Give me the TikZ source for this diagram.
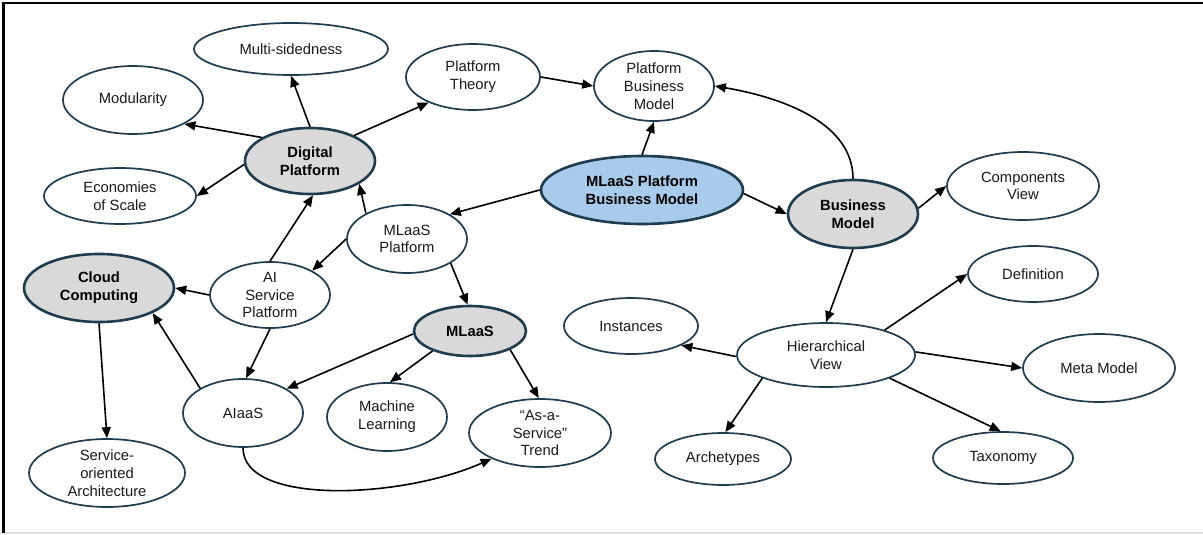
\documentclass[tikz,border=0pt]{standalone}
\usepackage{fontspec}
\setmainfont{Liberation Sans}
\usetikzlibrary{shapes.geometric,arrows.meta}
\definecolor{rim}{HTML}{1F3D4F}
\definecolor{hubgray}{HTML}{D9D9D9}
\definecolor{hubblue}{HTML}{A9CBEB}
\definecolor{txt}{HTML}{1A1A1A}
\tikzset{
  bubble/.style={ellipse, draw=rim, line width=1.7pt, fill=white, inner sep=0pt, align=center, text=txt,
    font=\fontsize{14.8}{17.8}\selectfont},
  hub/.style={bubble, fill=hubgray, line width=2.6pt, text=black, font=\fontsize{14.8}{17.8}\selectfont\bfseries},
  bluehub/.style={hub, fill=hubblue},
  link/.style={draw=black, line width=1.6pt, -{Triangle[length=11pt,width=9pt]}},
  sz/.style 2 args={minimum width=#1, minimum height=#2}
}
\begin{document}
\begin{tikzpicture}[x=1pt,y=-1pt]
\useasboundingbox (0,0) rectangle (1203,535);
% frame
\coordinate (ftl) at (3.5,3);
\coordinate (ftr) at (1203,3);
\coordinate (fbl) at (3.5,533);
\coordinate (fbr) at (1203,533);
\draw[line width=2pt, color=gray!25] (fbl) -- (fbr);
\draw[line width=2.4pt, black] (fbl) -- (ftl) -- (ftr);

% nodes
\node[bubble, sz={194}{52}] (multi) at (291,49) {Multi-sidedness};
\node[bubble, sz={140}{68}] (modul) at (133,100) {Modularity};
\node[hub, sz={130}{66}] (dp) at (310,161) {Digital\\Platform};
\node[bubble, sz={152}{56}] (econ) at (120,196) {Economies\\of Scale};
\node[bubble, sz={134}{66}] (pt) at (473,77) {Platform\\Theory};
\node[bubble, sz={120}{70}] (pbm) at (654,86) {Platform\\Business\\Model};
\node[bluehub, sz={202}{68}] (mpbm) at (642,190) {MLaaS Platform\\Business Model};
\node[hub, sz={130}{68}] (bm) at (853,214) {Business\\Model};
\node[bubble, sz={152}{68}] (cv) at (1023,186) {Components\\View};
\node[bubble, sz={130}{56}] (def) at (1033,274) {Definition};
\node[bubble, sz={120}{68}] (mp) at (407,239) {MLaaS\\Platform};
\node[hub, sz={150}{68}] (cc) at (99,288) {Cloud\\Computing};
\node[bubble, sz={120}{66}] (ai) at (270,295) {AI\\Service\\Platform};
\node[hub, sz={112}{50}] (mlaas) at (470,331) {MLaaS};
\node[bubble, sz={120}{68}] (aiaas) at (243,413) {AIaaS};
\node[bubble, sz={120}{68}] (ml) at (387,417) {Machine\\Learning};
\node[bubble, sz={142}{68}] (trend) at (540,433) {“As-a-\\Service”\\Trend};
\node[bubble, sz={156}{68}] (soa) at (107,473) {Service-\\oriented\\Architecture};
\node[bubble, sz={134}{56}] (inst) at (631,326) {Instances};
\node[bubble, sz={178}{64}] (hv) at (826,355) {Hierarchical\\View};
\node[bubble, sz={152}{68}] (meta) at (1099,368) {Meta Model};
\node[bubble, sz={136}{52}] (arche) at (723,459) {Archetypes};
\node[bubble, sz={140}{52}] (tax) at (1003,458) {Taxonomy};

% connectors
\draw[link] (dp.north) -- (multi.south);
\draw[link] (dp.154) -- (modul.-25);
\draw[link] (dp.183) -- (econ.east);
\draw[link] (dp.30) -- (pt.210);
\draw[link] (pt.east) -- (pbm.west);
\draw[link] (mpbm.north) -- (pbm.south);
\draw[link] (bm.north) .. controls +(0,-55) and +(70,12) .. (pbm.east);
\draw[link] (mpbm.west) -- (mp.30);
\draw[link] (mpbm.-2) -- (bm.west);
\draw[link] (bm.5) -- (cv.west);
\draw[link] (bm.south) -- (hv.north);
\draw[link] (hv.23) -- (def.west);
\draw[link] (hv.181) -- (inst.-21);
\draw[link] (hv.2) -- (meta.west);
\draw[link] (hv.200) -- (arche.85);
\draw[link] (hv.-20) -- (tax.95);
\draw[link] (mp.148) -- (dp.-25);
\draw[link] (mp.west) -- (ai.30);
\draw[link] (ai.north) -- (dp.-85);
\draw[link] (ai.west) -- (cc.east);
\draw[link] (ai.south) -- (aiaas.85);
\draw[link] (mp.-29) -- (mlaas.95);
\draw[link] (mlaas.183) -- (aiaas.29);
\draw[link] (mlaas.208) -- (ml.85);
\draw[link] (mlaas.-25) -- (trend.92);
\draw[link] (aiaas.150) -- (cc.-25);
\draw[link] (cc.south) -- (soa.north);
\draw[link] (aiaas.south) .. controls +(0,58) and +(-90,40) .. (trend.208);
\end{tikzpicture}
\end{document}
